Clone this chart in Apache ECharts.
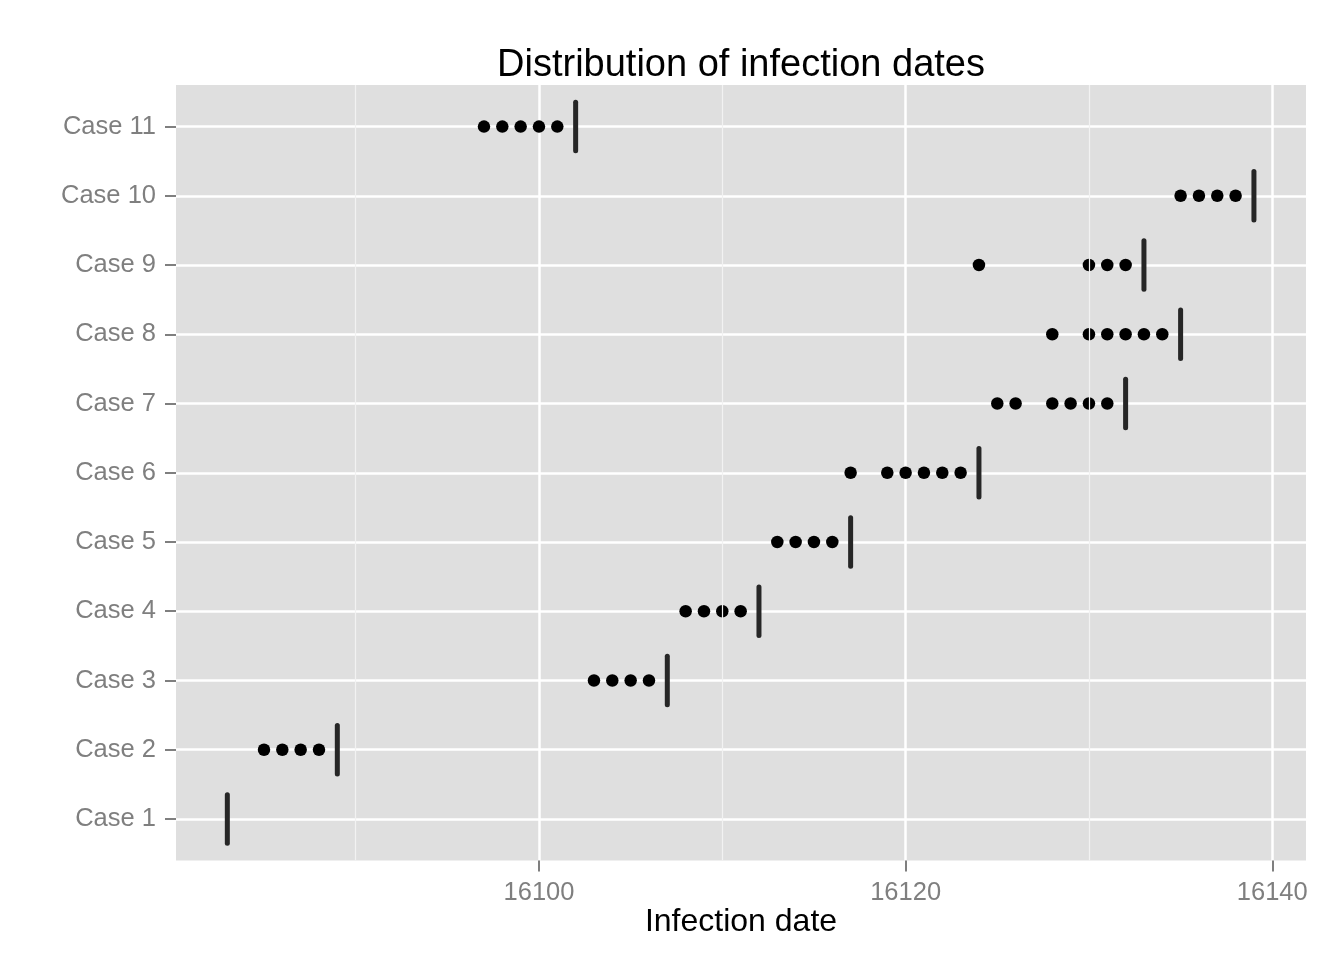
<!DOCTYPE html>
<html>
<head>
<meta charset="utf-8">
<script src="https://cdn.jsdelivr.net/npm/echarts@6/dist/echarts.min.js"></script>
<style>
  html, body { margin: 0; padding: 0; background: #fff; }
  #main { width: 1344px; height: 960px; }
</style>
</head>
<body>
<div id="main"></div>
<script>
// cases, bottom to top
var cases = ['Case 1', 'Case 2', 'Case 3', 'Case 4', 'Case 5', 'Case 6',
             'Case 7', 'Case 8', 'Case 9', 'Case 10', 'Case 11'];
// onset date of each case (vertical bar)
var onsetDates = [16083, 16089, 16107, 16112, 16117, 16124, 16132, 16135, 16133, 16139, 16102];
// possible infection dates of each case (dots)
var infectionDates = [
    [],
    [16085, 16086, 16087, 16088],
    [16103, 16104, 16105, 16106],
    [16108, 16109, 16110, 16111],
    [16113, 16114, 16115, 16116],
    [16117, 16119, 16120, 16121, 16122, 16123],
    [16125, 16126, 16128, 16129, 16130, 16131],
    [16128, 16130, 16131, 16132, 16133, 16134],
    [16124, 16130, 16131, 16132],
    [16135, 16136, 16137, 16138],
    [16097, 16098, 16099, 16100, 16101]
];
var xMajorTicks = [16100, 16120, 16140];
var xMinorLines = [16090, 16110, 16130];
var caseTicks = [1, 2, 3, 4, 5, 6, 7, 8, 9, 10, 11];

var barHalf = 0.35;

var dotData = [];
for (var i = 0; i < infectionDates.length; i++) {
    for (var j = 0; j < infectionDates[i].length; j++) {
        dotData.push([infectionDates[i][j], i + 1]);
    }
}
var barData = [];
for (var i = 0; i < onsetDates.length; i++) {
    barData.push([onsetDates[i], i + 1]);
}

var myChart = echarts.init(document.getElementById('main'));
var option = {
    animation: false,
    backgroundColor: '#fff',
    textStyle: { fontFamily: 'Liberation Sans, Arial, sans-serif' },
    title: {
        text: 'Distribution of infection dates',
        left: 736,
        top: 42,
        textAlign: 'center',
        textStyle: { fontSize: 38, fontWeight: 'normal', color: '#000', fontFamily: 'Liberation Sans' }
    },
    grid: {
        left: 176, right: 38, top: 85, bottom: 99.5,
        show: true, backgroundColor: '#DFDFDF', borderWidth: 0
    },
    xAxis: {
        type: 'value',
        min: 16080.2,
        max: 16141.84,
        name: 'Infection date',
        nameLocation: 'middle',
        nameGap: 46,
        nameMoveOverlap: false,
        nameTextStyle: { fontSize: 32, color: '#000', fontFamily: 'Liberation Sans' },
        axisLine: { show: false },
        axisTick: {
            show: true, length: 11, inside: false,
            customValues: xMajorTicks,
            lineStyle: { color: '#7F7F7F', width: 2 }
        },
        axisLabel: {
            customValues: xMajorTicks,
            margin: 19,
            fontSize: 25.5,
            color: '#7F7F7F',
            fontFamily: 'Liberation Sans',
            formatter: function (v) { return String(v); }
        },
        splitLine: { show: true, lineStyle: { color: '#fff', width: 2.5 } }
    },
    yAxis: {
        type: 'value',
        min: 0.4,
        max: 11.6,
        axisLine: { show: false },
        axisTick: {
            show: true, length: 11, inside: false,
            customValues: caseTicks,
            lineStyle: { color: '#7F7F7F', width: 2 }
        },
        axisLabel: {
            customValues: caseTicks,
            margin: 20,
            fontSize: 25.5,
            color: '#7F7F7F',
            fontFamily: 'Liberation Sans',
            padding: [3, 0, 0, 0],
            formatter: function (v) { return cases[Math.round(v) - 1]; }
        },
        splitLine: { show: true, lineStyle: { color: '#fff', width: 2.5 } }
    },
    series: [
        { // minor grid lines
            type: 'scatter',
            data: [],
            z: 1,
            silent: true,
            markLine: {
                silent: true,
                symbol: 'none',
                label: { show: false },
                lineStyle: { color: '#F2F2F2', width: 1.2, type: 'solid' },
                data: xMinorLines.map(function (v) { return { xAxis: v }; })
            }
        },
        {
            type: 'scatter',
            data: dotData,
            symbol: 'circle',
            symbolSize: 12.5,
            itemStyle: { color: '#000', opacity: 1 },
            z: 3
        },
        {
            type: 'custom',
            data: barData,
            z: 4,
            renderItem: function (params, api) {
                var x = api.value(0), y = api.value(1);
                var p1 = api.coord([x, y - barHalf]);
                var p2 = api.coord([x, y + barHalf]);
                return {
                    type: 'line',
                    shape: { x1: p1[0], y1: p1[1], x2: p2[0], y2: p2[1] },
                    style: { stroke: '#262626', lineWidth: 5, lineCap: 'round' }
                };
            }
        }
    ]
};
myChart.setOption(option, true);
</script>
</body>
</html>
